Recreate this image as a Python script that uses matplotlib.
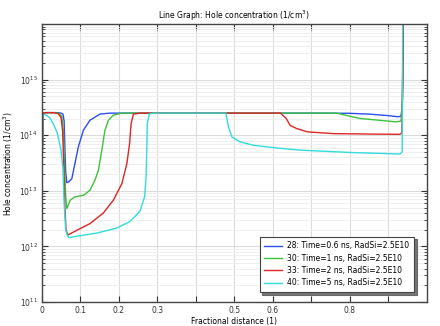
import numpy as np
import matplotlib
matplotlib.use("Agg")
import matplotlib.pyplot as plt
from matplotlib.ticker import LogLocator, FixedLocator, NullFormatter

# hole concentration along the device (1/cm^3) at four time steps
x_28 = [0, 0.004, 0.01, 0.04, 0.05, 0.055, 0.058, 0.060, 0.062, 0.065, 0.070,
        0.078, 0.086, 0.095, 0.108, 0.125, 0.151, 0.177, 0.3, 0.5, 0.7, 0.8,
        0.85, 0.9, 0.925, 0.933, 0.936, 0.938, 0.94, 1.0]
p_28 = [2e13, 2.5e14, 2.55e14, 2.55e14, 2.5e14, 2.4e14, 1.8e14, 6e13, 2.2e13,
        1.4e13, 1.45e13, 1.66e13, 3.1e13, 6.2e13, 1.23e14, 1.86e14, 2.4e14,
        2.5e14, 2.5e14, 2.5e14, 2.5e14, 2.48e14, 2.4e14, 2.25e14, 2.15e14,
        2.2e14, 3e14, 3e15, 1e17, 1e17]

x_30 = [0, 0.004, 0.01, 0.035, 0.045, 0.052, 0.056, 0.059, 0.062, 0.065, 0.074,
        0.086, 0.108, 0.125, 0.138, 0.147, 0.156, 0.164, 0.173, 0.186, 0.208,
        0.4, 0.766, 0.8, 0.827, 0.88, 0.92, 0.933, 0.937, 0.94, 1.0]
p_30 = [2e13, 2.5e14, 2.55e14, 2.55e14, 2.45e14, 2.2e14, 1.2e14, 3e13, 8e12,
        4.8e12, 6.8e12, 7.8e12, 8.3e12, 1.02e13, 1.55e13, 2.35e13, 5.4e13,
        1.23e14, 1.86e14, 2.3e14, 2.5e14, 2.5e14, 2.5e14, 2.2e14, 2.0e14,
        1.85e14, 1.74e14, 1.8e14, 5e14, 1e17, 1e17]

x_33 = [0, 0.004, 0.01, 0.03, 0.042, 0.05, 0.054, 0.057, 0.060, 0.063, 0.066,
        0.069, 0.091, 0.125, 0.160, 0.186, 0.208, 0.221, 0.228, 0.232, 0.238,
        0.255, 0.4, 0.62, 0.635, 0.645, 0.662, 0.69, 0.757, 0.85, 0.93, 0.935,
        0.938, 0.94, 1.0]
p_33 = [2e13, 2.5e14, 2.55e14, 2.55e14, 2.45e14, 2.1e14, 1.2e14, 3e13, 5e12,
        2e12, 1.7e12, 1.62e12, 1.95e12, 2.57e12, 4e12, 6.8e12, 1.35e13, 3.1e13,
        7.1e13, 1.62e14, 2.4e14, 2.5e14, 2.5e14, 2.5e14, 2.0e14, 1.5e14,
        1.32e14, 1.15e14, 1.07e14, 1.05e14, 1.04e14, 1.1e14, 1e15, 1e17, 1e17]

x_40 = [0, 0.003, 0.008, 0.02, 0.03, 0.04, 0.05, 0.055, 0.058, 0.062, 0.066,
        0.070, 0.074, 0.085, 0.143, 0.195, 0.229, 0.255, 0.267, 0.271, 0.273,
        0.274, 0.279, 0.29, 0.4, 0.478, 0.485, 0.494, 0.515, 0.55, 0.60, 0.67,
        0.8, 0.93, 0.936, 0.938, 1.0]
p_40 = [1.8e13, 2.3e14, 2.35e14, 2.1e14, 1.6e14, 1.1e14, 5.4e13, 2.5e13, 6e12,
        2e12, 1.6e12, 1.45e12, 1.45e12, 1.5e12, 1.74e12, 2.14e12, 2.8e12,
        4.3e12, 7.8e12, 1.8e13, 7.1e13, 1.62e14, 2.4e14, 2.5e14, 2.5e14,
        2.5e14, 1.4e14, 9.3e13, 7.6e13, 6.6e13, 6.0e13, 5.4e13, 4.9e13, 4.6e13,
        5e13, 1e17, 1e17]

labels = ["28: Time=0.6 ns, RadSi=2.5E10",
          "30: Time=1 ns, RadSi=2.5E10",
          "33: Time=2 ns, RadSi=2.5E10",
          "40: Time=5 ns, RadSi=2.5E10"]
colors = ["#2b4ff0", "#3cc23c", "#e02424", "#30dcdc"]

x_ticks = [0, 0.1, 0.2, 0.3, 0.4, 0.5, 0.6, 0.7, 0.8, 0.9]
x_ticklabels = ["0", "0.1", "0.2", "0.3", "", "0.5", "0.6", "", "0.8", ""]

fs = 5.5

fig = plt.figure(figsize=(4.4, 3.26), dpi=100)
ax = fig.add_axes([0.095, 0.0736, 0.875, 0.8526])

for xs, ps, c, lab in zip([x_28, x_30, x_33, x_40], [p_28, p_30, p_33, p_40],
                          colors, labels):
    ax.plot(xs, ps, color=c, lw=1.0, label=lab)

ax.set_yscale("log")
ax.set_xlim(0, 1)
ax.set_ylim(1e11, 1e16)

ax.xaxis.set_major_locator(FixedLocator(x_ticks))
ax.set_xticklabels(x_ticklabels)
ax.yaxis.set_major_locator(FixedLocator([1e11, 1e12, 1e13, 1e14, 1e15]))
ax.set_yticklabels([r"$10^{11}$", r"$10^{12}$", r"$10^{13}$", r"$10^{14}$", r"$10^{15}$"])
ax.yaxis.set_minor_locator(LogLocator(base=10, subs=np.arange(2, 10)))
ax.yaxis.set_minor_formatter(NullFormatter())

ax.grid(which="major", color="#dcdcdc", lw=0.8)
ax.grid(which="minor", axis="y", color="#ededed", lw=0.6)
ax.set_axisbelow(True)

ax.tick_params(which="both", direction="in", top=True, right=True,
               labelsize=fs, colors="#333333")
ax.tick_params(which="major", length=4, width=0.8, pad=3)
ax.tick_params(which="minor", length=2.5, width=0.6)
for s in ax.spines.values():
    s.set_color("#444444")
    s.set_linewidth(1.0)

ax.set_title("Line Graph: Hole concentration (1/cm$^3$)", fontsize=fs, pad=4)
ax.set_xlabel("Fractional distance (1)", fontsize=fs, labelpad=1)
ax.set_ylabel("Hole concentration (1/cm$^3$)", fontsize=fs, labelpad=3)

leg = ax.legend(loc="lower right", bbox_to_anchor=(0.976, 0.022), fontsize=fs,
                fancybox=False, shadow={"color": "#555555", "alpha": 0.8},
                framealpha=1, edgecolor="#444444", handlelength=2.4,
                handletextpad=0.6, borderpad=0.6, labelspacing=0.45)
leg.get_frame().set_linewidth(0.8)

fig.savefig("out.png", dpi=100)
